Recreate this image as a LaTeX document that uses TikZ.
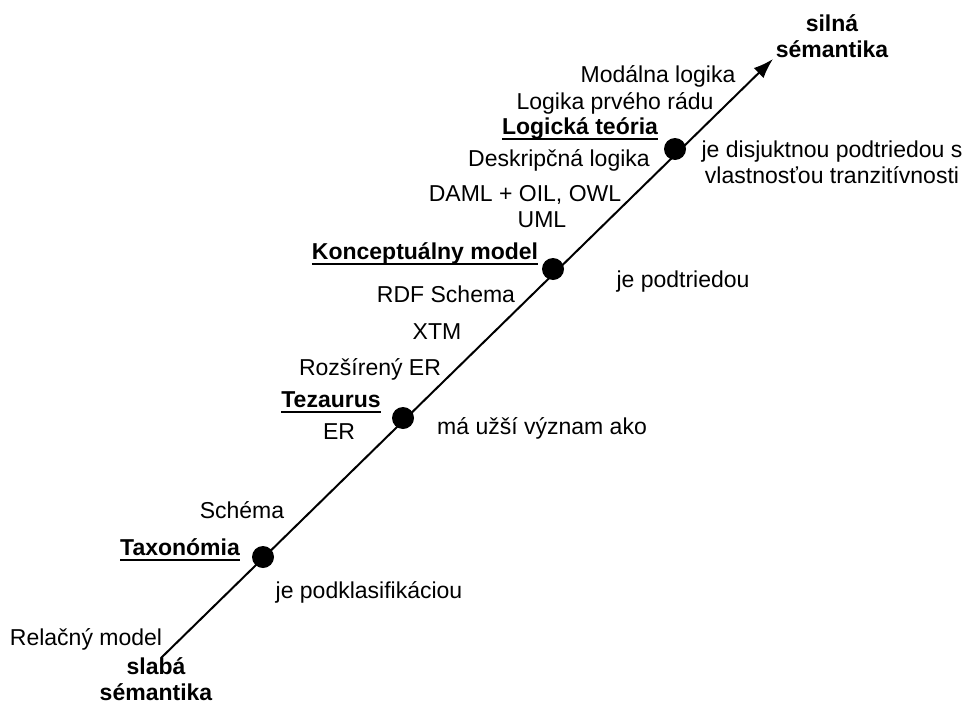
\documentclass[tikz,border=0pt]{standalone}
\usepackage{fontspec}
\setmainfont{Liberation Sans}
\usetikzlibrary{arrows.meta,positioning}
% podciarknutie s pevnou hlbkou
\newcommand{\podciarkni}[1]{\setbox0\hbox{#1}\rlap{\rule[-5.5pt]{\wd0}{2pt}}\box0}
\tikzset{
	sem_txt/.style = {inner sep=0pt, anchor=base,
		font=\fontsize{23}{26}\selectfont},% bezny popis
	sem_kon/.style = {sem_txt, font=\fontsize{23}{26}\selectfont\bfseries},% koncept, podciarknuty
	sem_pol/.style = {inner sep=0pt, align=center,
		font=\fontsize{23}{26}\selectfont\bfseries},% slaba / silna semantika
	sem_bod/.style = {circle, fill=black, inner sep=0pt, minimum size=22pt},% bod na osi
	sem_os/.style = {line width=2pt, -{Latex[length=20pt,width=14pt]}}% os semantiky
}

\begin{document}
\begin{tikzpicture}[x=1pt,y=-1pt]
\useasboundingbox (0,0) rectangle (965,706);

% os
\coordinate (dole) at (161,658);
\coordinate (hore) at (773,59);
\draw [sem_os] (dole) -- (hore);

% body
\node [sem_bod] (tax) at (263,557) {};
\node [sem_bod] (tez) at (403,418) {};
\node [sem_bod] (kon) at (553,269) {};
\node [sem_bod] (log) at (675,149) {};

% konce osi
\node [sem_pol] (slaba) at (156,679) {slabá\\sémantika};
\node [sem_pol] (silna) at (832,36) {silná\\sémantika};

% koncepty
\node [sem_kon] (taxt) at (180,555) {\podciarkni{Taxonómia}};
\node [sem_kon] (tezt) at (331,407) {\podciarkni{Tezaurus}};
\node [sem_kon] (kont) at (425,259) {\podciarkni{Konceptuálny model}};
\node [sem_kon] (logt) at (580,134) {\podciarkni{Logická teória}};

% jazyky a modely
\node [sem_txt] (rel) at (86,645) {Relačný model};
\node [sem_txt] (sch) at (242,518) {Schéma};
\node [sem_txt] (er) at (339,439) {ER};
\node [sem_txt] (rer) at (370,375) {Rozšírený ER};
\node [sem_txt] (xtm) at (437,339) {XTM};
\node [sem_txt] (rdf) at (446,302) {RDF Schema};
\node [sem_txt] (uml) at (542,227) {UML};
\node [sem_txt] (daml) at (525,201) {DAML + OIL, OWL};
\node [sem_txt] (desk) at (559,166) {Deskripčná logika};
\node [sem_txt] (prv) at (615,110) {Logika prvého rádu};
\node [sem_txt] (mod) at (658,83) {Modálna logika};

% vztahy
\node [sem_txt] (r1) at (369,598) {je podklasifikáciou};
\node [sem_txt] (r2) at (542,434) {má užší význam ako};
\node [sem_txt] (r3) at (683,287) {je podtriedou};
\node [sem_pol, font=\fontsize{23}{26}\selectfont] (r4) at (832,162)
	{je disjuktnou podtriedou s\\vlastnosťou tranzitívnosti};
\end{tikzpicture}
\end{document}
